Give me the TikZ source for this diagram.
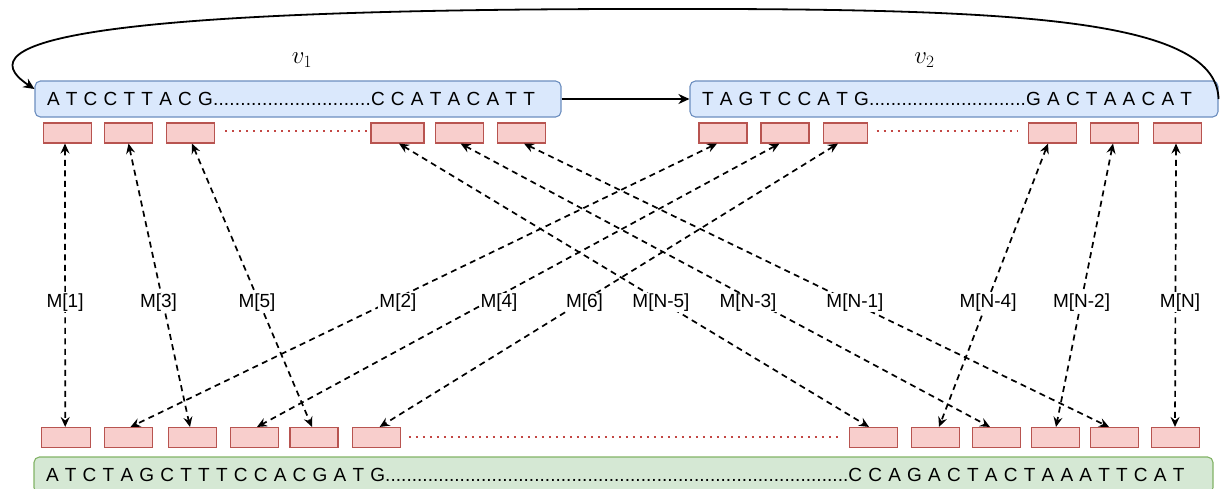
\documentclass[tikz,border=0pt]{standalone}
\usepackage[no-math]{fontspec}
\setmainfont{Liberation Sans}
\newfontfamily\seqfont[WordSpace=1.18]{Liberation Sans}
\usetikzlibrary{arrows.meta}
\definecolor{bluefill}{HTML}{DAE8FC}
\definecolor{bluestroke}{HTML}{6C8EBF}
\definecolor{greenfill}{HTML}{D5E8D4}
\definecolor{greenstroke}{HTML}{82B366}
\definecolor{redfill}{HTML}{F8CECC}
\definecolor{redstroke}{HTML}{B85450}
\newcommand\dotrun[1]{\xleaders\hbox{.}\hskip#1\relax}
\begin{document}
\begin{tikzpicture}[x=1pt,y=-1pt,
  seqbox/.style={rounded corners=5.4pt, line width=1.1pt, minimum height=36pt,
    inner xsep=12pt, inner ysep=0pt, font=\seqfont\fontsize{19}{22}\selectfont},
  bluebox/.style={seqbox, draw=bluestroke, fill=bluefill},
  greenbox/.style={seqbox, draw=greenstroke, fill=greenfill},
  cell/.style={draw=redstroke, fill=redfill, line width=1.1pt, minimum width=48pt,
    minimum height=20pt, inner sep=0pt},
  link/.style={line width=1.7pt, dash pattern=on 6pt off 4.5pt,
    {Stealth[length=10pt,width=9pt,inset=3.5pt]}-{Stealth[length=10pt,width=9pt,inset=3.5pt]}},
  lbl/.style={fill=white, inner sep=1pt, pos=.561, font=\fontsize{19}{22}\selectfont},
  flow/.style={line width=1.8pt, -{Stealth[length=11pt,width=10pt,inset=3.5pt]}},
  dotline/.style={draw=redstroke!85!red, line width=2pt, dash pattern=on 2pt off 5pt},
  vlabel/.style={font=\fontsize{24}{28}\selectfont, anchor=base}]
\useasboundingbox (0,0) rectangle (1221,488);
\clip (0,0) rectangle (1221,488);

% sequence boxes
\node[bluebox] (v1) at (298,99)
  {\makebox[502pt][l]{A T C C T T A C G\dotrun{158pt}C C A T A C A T T}};
\node[bluebox] (v2) at (954,99)
  {\makebox[504pt][l]{T A G T C C A T G\dotrun{157pt}G A C T A A C A T}};
\node[greenbox] (g) at (623.5,475)
  {\makebox[1155pt][l]{A T C T A G C T T T C C A C G A T G\dotrun{463pt}C C A G A C T A C T A A A T T C A T}};

\node[vlabel] (l1) at (302,63.5) {$v_1$};
\node[vlabel] (l2) at (924.5,63.5) {$v_2$};

% top cells
\node[cell] (T1) at (67.5,133) {};
\node[cell] (T2) at (128.2,133) {};
\node[cell] (T3) at (190.8,133) {};
\node[cell, minimum width=53pt] (T4) at (397.5,133) {};
\node[cell] (T5) at (459.3,133) {};
\node[cell] (T6) at (521.5,133) {};
\node[cell] (T7) at (723,133) {};
\node[cell] (T8) at (785,133) {};
\node[cell, minimum width=43.5pt] (T9) at (845.3,133) {};
\node[cell] (T10) at (1052.2,133) {};
\node[cell] (T11) at (1114.8,133) {};
\node[cell] (T12) at (1177.5,133) {};

% bottom cells
\node[cell, minimum width=49pt] (B1) at (66.2,437.5) {};
\node[cell] (B2) at (128.3,437.5) {};
\node[cell] (B3) at (192.5,437.5) {};
\node[cell] (B4) at (254.7,437.5) {};
\node[cell] (B5) at (314,437.5) {};
\node[cell] (B6) at (376.3,437.5) {};
\node[cell] (B7) at (873.3,437.5) {};
\node[cell] (B8) at (935.5,437.5) {};
\node[cell] (B9) at (996.7,437.5) {};
\node[cell] (B10) at (1055.3,437.5) {};
\node[cell] (B11) at (1114.8,437.5) {};
\node[cell] (B12) at (1175.5,437.5) {};

% dotted continuation lines
\draw[dotline] ([xshift=10pt,yshift=2pt]T3.east) -- ([xshift=-3pt,yshift=2pt]T4.west);
\draw[dotline] ([xshift=9pt,yshift=2pt]T9.east) -- ([xshift=-10pt,yshift=2pt]T10.west);
\draw[dotline] ([xshift=8pt,yshift=1pt]B6.east) -- ([xshift=-11pt,yshift=1pt]B7.west);

% flow arrows
\draw[flow] (v1.east) -- (v2.west);
\draw[flow] (v2.east) .. controls (1216,15) and (1000,8) .. (620,9)
  .. controls (100,10) and (-40,40) .. ([yshift=10pt]v1.west);

% mapping links
\draw[link] ([xshift=-2.5pt]T1.south) -- node[lbl]{M[1]} ([xshift=-1pt]B1.north);
\draw[link] ([xshift=0.3pt]T2.south) -- node[lbl,xshift=-4.5pt]{M[3]} ([xshift=-2.5pt]B3.north);
\draw[link] ([xshift=1.2pt]T3.south) -- node[lbl,xshift=-2.3pt]{M[5]} ([xshift=-2pt]B5.north);
\draw[link] ([xshift=-6pt]T7.south) -- node[lbl,xshift=10pt]{M[2]} ([xshift=2.2pt]B2.north);
\draw[link] ([xshift=-5.5pt]T8.south) -- node[lbl,xshift=12.6pt]{M[4]} ([xshift=2.3pt]B4.north);
\draw[link] ([xshift=-7.3pt]T9.south) -- node[lbl,xshift=3.7pt]{M[6]} ([xshift=3.3pt]B6.north);
\draw[link] ([xshift=1.5pt]T4.south) -- node[lbl,xshift=-1.7pt]{M[N-5]} ([xshift=-4.3pt]B7.north);
\draw[link] ([xshift=1.3pt]T5.south) -- node[lbl,xshift=-9.6pt]{M[N-3]} ([xshift=-6.7pt]B9.north);
\draw[link] ([xshift=2.5pt]T6.south) -- node[lbl,xshift=2.8pt]{M[N-1]} ([xshift=-5.8pt]B11.north);
\draw[link] ([xshift=-4.2pt]T10.south) -- node[lbl,xshift=1.2pt]{M[N-4]} ([xshift=3.5pt]B8.north);
\draw[link] ([xshift=-1.8pt]T11.south) -- node[lbl,xshift=0.5pt]{M[N-2]} ([xshift=0.7pt]B10.north);
\draw[link] ([xshift=-1.5pt]T12.south) -- node[lbl,xshift=4.6pt]{M[N]} ([xshift=-0.5pt]B12.north);
\end{tikzpicture}
\end{document}
